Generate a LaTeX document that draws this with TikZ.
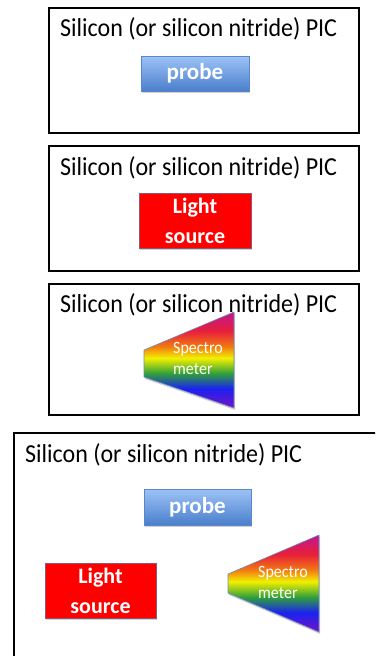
\documentclass[tikz,border=0pt]{standalone}
\usepackage{fontspec}
\setmainfont{Carlito}
\usetikzlibrary{shadows}

\definecolor{probetop}{HTML}{9DC3F7}
\definecolor{probebot}{HTML}{4A7FCC}
\definecolor{probeedge}{HTML}{5B87C8}
\definecolor{srcred}{HTML}{FF0000}
\definecolor{srcedge}{HTML}{8A5A78}
\definecolor{specedge}{HTML}{6A8CC4}
\definecolor{rbmag}{HTML}{C0168E}
\definecolor{rbred}{HTML}{E8203A}
\definecolor{rborange}{HTML}{F27A12}
\definecolor{rbyellow}{HTML}{F2F000}
\definecolor{rbgreen}{HTML}{2FA03A}
\definecolor{rbblue}{HTML}{1A22F0}
\definecolor{rbviolet}{HTML}{7A12C4}

% vertical rainbow, violet at the bottom, magenta at the top
\pgfdeclareverticalshading{rainbowv}{100bp}{%
  color(0bp)=(rbviolet); color(25bp)=(rbviolet);
  color(35bp)=(rbblue); color(43bp)=(rbgreen);
  color(51bp)=(rbyellow); color(57bp)=(rborange);
  color(65bp)=(rbred); color(75bp)=(rbmag); color(100bp)=(rbmag)}

% slightly tall lettering
\newcommand{\tallt}[1]{\scalebox{1}[1.08]{#1}}

\tikzset{
  chip/.style={draw=black, line width=2pt},
  chiptitle/.style={anchor=base west, inner sep=0pt,
    font=\fontsize{24}{28}\selectfont},
  softshadow/.style={drop shadow={shadow xshift=1pt, shadow yshift=-2pt,
    opacity=0.3, fill=black!60}},
  probebox/.style={draw=probeedge, line width=0.6pt, top color=probetop,
    bottom color=probebot, minimum width=108pt, minimum height=35pt,
    text=white, font=\bfseries\fontsize{23}{26}\selectfont, softshadow},
  srcbox/.style={draw=srcedge, line width=0.6pt, fill=srcred,
    minimum width=112pt, minimum height=55pt, text=white, align=center,
    font=\bfseries\fontsize{22}{30}\selectfont, softshadow},
  spec/.style={draw=specedge, line width=0.6pt, shading=rainbowv, softshadow},
  spectext/.style={anchor=north west, inner sep=0pt, text=white,
    align=left, font=\fontsize{16}{21}\selectfont},
}

\begin{document}
\begin{tikzpicture}[x=1pt, y=-1pt]
\useasboundingbox (0,0) rectangle (375,656);
\clip (0,0) rectangle (375,656);
\fill[white] (0,0) rectangle (375,656);

% chip 1: probe only
\draw[chip] (49,8) rectangle (359,133);
\node[chiptitle] (t1) at (60,36) {\tallt{Silicon (or silicon nitride) PIC}};
\node[probebox] (probe1) at (195,73.5) {probe};

% chip 2: light source only
\draw[chip] (49,146) rectangle (359,271);
\node[chiptitle] (t2) at (60,175) {\tallt{Silicon (or silicon nitride) PIC}};
\node[srcbox] (src2) at (195,220.5) {Light\\source};

% chip 3: spectrometer only
\draw[chip] (49,284) rectangle (359,415);
\node[chiptitle] (t3) at (60,312) {\tallt{Silicon (or silicon nitride) PIC}};
\path[spec] (144,350) -- (234,312) -- (234,408) -- (144,377) -- cycle;
\node[spectext] (spec3) at (173,342) {\tallt{Spectro}\\\tallt{meter}};

% chip 4: all three combined
\draw[chip] (14,660) -- (14,433) -- (380,433);
\node[chiptitle] (t4) at (25,462) {\tallt{Silicon (or silicon nitride) PIC}};
\node[probebox, minimum width=107pt, minimum height=36pt] (probe4) at (197.5,507) {probe};
\node[srcbox, minimum width=111pt] (src4) at (100.5,590.5) {Light\\source};
\path[spec] (228,574) -- (319,535) -- (319,632) -- (228,593) -- cycle;
\node[spectext] (spec4) at (258,566) {\tallt{Spectro}\\\tallt{meter}};
\end{tikzpicture}
\end{document}
